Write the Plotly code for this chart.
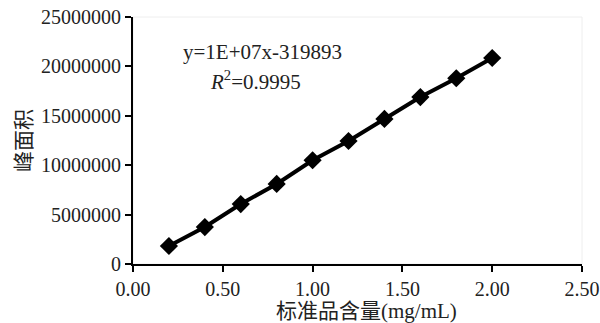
import plotly.graph_objects as go

# Standard concentration (mg/mL) and peak areas
concentration = [0.2, 0.4, 0.6, 0.8, 1.0, 1.2, 1.4, 1.6, 1.8, 2.0]
peak_area = [1820000, 3740000, 6070000, 8100000, 10500000,
             12450000, 14680000, 16900000, 18800000, 20850000]

x_ticks = [0, 0.5, 1.0, 1.5, 2.0, 2.5]
x_labels = ["0.00", "0.50", "1.00", "1.50", "2.00", "2.50"]
y_ticks = [0, 5000000, 10000000, 15000000, 20000000, 25000000]
y_labels = ["0", "5000000", "10000000", "15000000", "20000000", "25000000"]

FONT = "'Liberation Serif', 'Times New Roman', 'Noto Sans CJK SC', serif"
TXT = "#222222"

fig = go.Figure()
fig.add_trace(go.Scatter(
    x=concentration, y=peak_area, mode="lines+markers",
    line=dict(color="black", width=4),
    marker=dict(symbol="diamond", size=14, color="black"),
    showlegend=False,
    cliponaxis=False,
))

fig.update_layout(
    width=600, height=323,
    margin=dict(l=133, r=18, t=17, b=59),
    paper_bgcolor="white", plot_bgcolor="white",
    font=dict(family=FONT, size=20, color=TXT),
    xaxis=dict(
        range=[0, 2.5], tickvals=x_ticks, ticktext=x_labels,
        tickfont=dict(family=FONT, size=20, color=TXT),
        showline=True, linecolor="black", linewidth=2, mirror=False,
        ticks="outside", ticklen=6, tickwidth=2, tickcolor="black",
        showgrid=False, zeroline=False, automargin=False,
    ),
    yaxis=dict(
        range=[0, 25000000], tickvals=y_ticks, ticktext=y_labels,
        tickfont=dict(family=FONT, size=20, color=TXT),
        showline=True, linecolor="black", linewidth=2,
        ticks="outside", ticklen=6, tickwidth=2, tickcolor="black",
        showgrid=False, zeroline=False, automargin=False,
        title=dict(text="峰面积", standoff=4,
                   font=dict(family=FONT, size=21, color=TXT)),
    ),
    shapes=[dict(type="rect", xref="paper", yref="paper", x0=0, y0=0, x1=1, y1=1,
                 line=dict(color="#eeeeee", width=1), layer="below")],
    annotations=[
        # x-axis title
        dict(text="标准品含量(mg/mL)", x=0.519, y=0, xref="paper", yref="paper",
             xanchor="center", yanchor="middle", yshift=-47, showarrow=False,
             font=dict(family=FONT, size=21, color=TXT)),
        # regression equation
        dict(text="y=1E+07x-319893", x=0.265, y=21450000, xref="x", yref="y",
             xanchor="left", yanchor="middle", showarrow=False,
             font=dict(family=FONT, size=21, color=TXT)),
        dict(text="<i>R</i><sup>2</sup>=0.9995", x=0.683, y=18600000, xref="x", yref="y",
             xanchor="center", yanchor="middle", showarrow=False,
             font=dict(family=FONT, size=21, color=TXT)),
    ],
)

fig.write_html("out.html")
